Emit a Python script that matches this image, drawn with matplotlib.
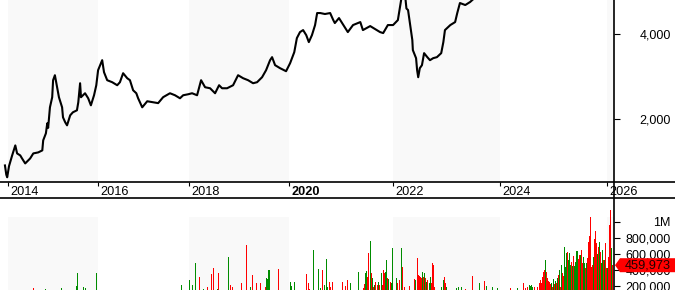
import matplotlib
matplotlib.use("Agg")
import matplotlib.pyplot as plt
import matplotlib.transforms as mtransforms
from matplotlib.lines import Line2D
from matplotlib.patches import Polygon
from matplotlib.ticker import FuncFormatter
import numpy as np
import pandas as pd

plt.rcParams['font.family'] = ['Liberation Sans', 'DejaVu Sans']

# price line (decimal years, price)
price_years = [2013.93, 2013.96, 2013.98, 2014.02, 2014.09, 2014.16, 2014.20, 2014.27, 2014.31, 2014.38,
               2014.49, 2014.56, 2014.67, 2014.76, 2014.78, 2014.84, 2014.87, 2014.89, 2014.93, 2014.98,
               2015.00, 2015.04, 2015.09, 2015.13, 2015.20, 2015.22, 2015.27, 2015.31, 2015.38, 2015.44,
               2015.53, 2015.56, 2015.60, 2015.62, 2015.71, 2015.78, 2015.84, 2015.91, 2015.96, 2016.00,
               2016.09, 2016.13, 2016.20, 2016.31, 2016.42, 2016.48, 2016.55, 2016.64, 2016.70, 2016.77,
               2016.84, 2016.88, 2016.95, 2016.97, 2017.08, 2017.21, 2017.32, 2017.43, 2017.58, 2017.69,
               2017.80, 2017.87, 2017.98, 2018.06, 2018.16, 2018.24, 2018.32, 2018.42, 2018.52, 2018.60,
               2018.66, 2018.76, 2018.88, 2018.98, 2019.08, 2019.18, 2019.28, 2019.36, 2019.46, 2019.54,
               2019.62, 2019.66, 2019.72, 2019.82, 2019.94, 2020.02, 2020.10, 2020.15, 2020.21, 2020.27,
               2020.33, 2020.38, 2020.44, 2020.50, 2020.54, 2020.60, 2020.69, 2020.79, 2020.85, 2020.88,
               2020.96, 2021.13, 2021.23, 2021.37, 2021.42, 2021.56, 2021.75, 2021.81, 2021.90, 2022.00,
               2022.09, 2022.15, 2022.19, 2022.23, 2022.25, 2022.28, 2022.32, 2022.36, 2022.37, 2022.43,
               2022.45, 2022.47, 2022.50, 2022.54, 2022.58, 2022.64, 2022.69, 2022.75, 2022.82, 2022.90,
               2022.94, 2022.97, 2023.07, 2023.16, 2023.20, 2023.25, 2023.35, 2023.44, 2023.50, 2023.70,
               2024.00, 2024.50, 2025.00, 2025.50, 2026.00]
price_values = [918, 700, 640, 900, 1153, 1388, 1200, 1153, 1082, 965,
                1082, 1200, 1224, 1271, 1506, 1671, 1906, 1800, 2282, 2518,
                2918, 3035, 2753, 2518, 2282, 2047, 1929, 1859, 2094, 2165,
                2212, 2400, 2847, 2518, 2612, 2494, 2329, 2565, 2800, 3153,
                3388, 3106, 2918, 2871, 2800, 2871, 3082, 2965, 2918, 2682,
                2612, 2494, 2330, 2282, 2424, 2400, 2380, 2520, 2612, 2565,
                2494, 2565, 2588, 2612, 2565, 2918, 2753, 2729, 2612, 2800,
                2729, 2729, 2800, 3035, 2965, 2918, 2847, 2871, 2988, 3153,
                3388, 3459, 3271, 3200, 3129, 3318, 3576, 3906, 4047, 4094,
                3976, 3812, 3976, 4212, 4494, 4494, 4471, 4494, 4329, 4259,
                4376, 4047, 4212, 4282, 4094, 4188, 4047, 4024, 4212, 4212,
                4329, 4800, 5050, 4850, 4600, 4565, 4212, 3859, 3624, 3435,
                3150, 2988, 3200, 3271, 3553, 3459, 3388, 3435, 3459, 3553,
                3812, 4094, 4212, 4282, 4494, 4729, 4682, 4753, 4820, 5100,
                5400, 5800, 6200, 6600, 7000]

# sparse volume bars before mid 2024 (decimal years, volume, 1 = up week)
sparse_years = [2014.556, 2014.822, 2015.178, 2015.511, 2015.533, 2015.667, 2015.711, 2015.956, 2017.824, 2018.000,
                2018.060, 2018.120, 2018.200, 2018.280, 2018.360, 2018.440, 2018.480, 2018.560, 2018.580, 2018.780,
                2018.820, 2018.860, 2019.040, 2019.140, 2019.220, 2019.260, 2019.340, 2019.420, 2019.520, 2019.540,
                2019.560, 2019.580, 2019.600, 2019.780, 2020.019, 2020.038, 2020.096, 2020.327, 2020.365, 2020.385,
                2020.462, 2020.558, 2020.596, 2020.635, 2020.673, 2020.712, 2020.731, 2020.769, 2020.788, 2020.827,
                2021.019, 2021.077, 2021.115, 2021.173, 2021.327, 2021.423, 2021.442, 2021.462, 2021.481, 2021.500,
                2021.519, 2021.558, 2021.577, 2021.596, 2021.615, 2021.635, 2021.654, 2021.692, 2021.712, 2021.731,
                2021.769, 2021.788, 2021.808, 2021.827, 2021.846, 2021.865, 2021.885, 2021.904, 2021.942, 2021.962,
                2021.981, 2022.056, 2022.075, 2022.112, 2022.150, 2022.168, 2022.206, 2022.299, 2022.393, 2022.411,
                2022.449, 2022.467, 2022.486, 2022.505, 2022.523, 2022.542, 2022.561, 2022.579, 2022.598, 2022.617,
                2022.636, 2022.673, 2022.692, 2022.710, 2022.729, 2022.748, 2022.766, 2022.897, 2022.935, 2022.953,
                2022.972, 2022.991, 2023.178, 2023.215, 2023.271, 2023.346, 2023.477, 2023.607, 2023.701, 2023.738,
                2023.850, 2023.944, 2024.187, 2024.318, 2024.430]
sparse_volumes_k = [171, 160, 179, 200, 367, 192, 171, 367, 212, 275,
                    212, 492, 317, 167, 192, 350, 429, 167, 367, 567,
                    212, 192, 242, 712, 192, 337, 233, 242, 192, 296,
                    287, 400, 400, 412, 254, 200, 254, 350, 242, 162,
                    650, 412, 179, 400, 212, 537, 183, 254, 183, 254,
                    254, 200, 275, 233, 379, 179, 225, 367, 392, 317,
                    617, 762, 358, 304, 183, 212, 254, 212, 254, 212,
                    367, 212, 400, 367, 379, 525, 296, 287, 254, 242,
                    679, 300, 233, 275, 679, 442, 183, 200, 287, 275,
                    546, 337, 325, 317, 296, 379, 308, 367, 296, 254,
                    275, 233, 308, 233, 483, 462, 192, 183, 275, 308,
                    242, 183, 171, 183, 183, 158, 325, 233, 258, 200,
                    183, 171, 171, 171, 233]
sparse_up = [0, 1, 1, 1, 1, 1, 1, 1, 1, 1,
             1, 1, 0, 1, 0, 0, 0, 1, 0, 1,
             0, 0, 0, 0, 1, 0, 0, 0, 0, 1,
             1, 1, 1, 0, 1, 1, 1, 0, 0, 0,
             1, 1, 1, 0, 1, 1, 1, 0, 0, 0,
             0, 0, 0, 1, 1, 0, 0, 1, 1, 0,
             0, 1, 0, 1, 0, 1, 0, 0, 1, 0,
             1, 0, 0, 0, 1, 1, 0, 1, 0, 1,
             1, 1, 0, 0, 1, 0, 0, 0, 0, 1,
             0, 0, 0, 0, 0, 1, 0, 1, 0, 1,
             0, 1, 1, 0, 0, 0, 0, 1, 1, 0,
             0, 1, 1, 1, 1, 0, 0, 1, 0, 1,
             1, 1, 0, 1, 0]

# consecutive weekly bars from mid 2024 to the last week
dense_last_week = '2026-02-10'
dense_volumes_k = [171, 120, 192, 140, 212, 200, 212, 183, 130, 183,
                   130, 183, 140, 242, 275, 242, 308, 379, 400, 525,
                   379, 296, 267, 254, 225, 242, 192, 283, 225, 267,
                   233, 296, 337, 400, 192, 462, 367, 325, 683, 442,
                   608, 629, 525, 608, 462, 504, 450, 575, 450, 504,
                   642, 533, 587, 587, 650, 483, 558, 483, 421, 492,
                   546, 754, 825, 1058, 442, 462, 567, 783, 892, 733,
                   600, 692, 754, 629, 483, 650, 525, 525, 733, 421,
                   421, 558, 962, 1150, 671, 459.973]
dense_up = [0, 1, 0, 1, 1, 1, 1, 1, 0, 0,
            1, 0, 0, 0, 0, 0, 0, 0, 0, 1,
            0, 0, 0, 0, 0, 1, 0, 1, 0, 1,
            0, 1, 0, 1, 0, 1, 0, 0, 1, 1,
            1, 0, 1, 1, 1, 0, 1, 0, 1, 1,
            1, 0, 0, 1, 0, 0, 1, 1, 0, 1,
            0, 0, 0, 0, 0, 0, 1, 0, 0, 0,
            1, 0, 1, 0, 1, 1, 0, 1, 0, 0,
            1, 0, 0, 0, 1, 0]
last_volume = 459973

year_ticks = [2014, 2016, 2018, 2020, 2022, 2024, 2026]
shaded_spans = [(2014, 2016), (2018, 2020), (2022, 2024), (2026, 2028)]

# the time axis is not linear in years: anchor years and their pixel positions
axis_years = [2013, 2014, 2016, 2018, 2020, 2022, 2024, 2026, 2027]
axis_pos = [-37, 8, 98, 189, 289, 393, 500, 607, 660.5]


def to_pos(y):
    return np.interp(y, axis_years, axis_pos)


def to_year(p):
    return np.interp(p, axis_pos, axis_years)


dense_dates = pd.date_range(end=dense_last_week, periods=len(dense_volumes_k), freq='7D')
dense_years = dense_dates.year + (dense_dates.dayofyear - 1) / np.where(dense_dates.is_leap_year, 366, 365)

bar_years = np.concatenate([sparse_years, dense_years])
bar_vols = np.concatenate([sparse_volumes_k, dense_volumes_k]) * 1000
bar_up = np.concatenate([sparse_up, dense_up])
bar_colors = np.where(bar_up == 1, '#008c00', '#ff0000')

W, H = 675, 290
fig = plt.figure(figsize=(W / 100, H / 100), dpi=100)
right = 614 / W
ax1 = fig.add_axes([0, 1 - 181.5 / H, right, 181.5 / H])
ax2 = fig.add_axes([0, 0, right, 92 / H])

band = '#f9f9f9'
for ax in (ax1, ax2):
    ax.set_xscale('function', functions=(to_pos, to_year))
    ax.set_xlim(2013.82, 2026.13)
    for s in ax.spines.values():
        s.set_visible(False)
    ax.yaxis.tick_right()
    ax.tick_params(axis='y', direction='out', length=4.3, width=0.8, pad=36.5,
                   labelsize=9, colors='black')

for a, b in shaded_spans:
    ax1.axvspan(a, b, color=band, lw=0, zorder=0)
    ax2.axvspan(a, b, ymax=0.795, color=band, lw=0, zorder=0)

# price panel
ax1.plot(price_years, price_values, color='black', lw=1.5, zorder=3)
ax1.set_ylim(541, 4800)
ax1.set_yticks([2000, 4000])
ax1.yaxis.set_major_formatter(FuncFormatter(lambda v, p: f'{v:,.0f}'))
for lbl in ax1.get_yticklabels():
    lbl.set_ha('right')

ax1.set_xticks(year_ticks)
ax1.set_xticklabels([str(y) for y in year_ticks])
ax1.tick_params(axis='x', direction='out', length=3, width=0.8, pad=0.5, labelsize=9.2)
shift = mtransforms.ScaledTranslation(2 / 100, 0, fig.dpi_scale_trans)
for lbl in ax1.get_xticklabels():
    lbl.set_ha('left')
    lbl.set_transform(lbl.get_transform() + shift)
    if lbl.get_text() == '2020':
        lbl.set_fontweight('bold')

# volume panel
ax2.bar(bar_years, bar_vols, width=0.019, color=bar_colors, lw=0, antialiased=False, zorder=3)
ax2.set_ylim(150000, 1300000)
ax2.set_xticks([])
ax2.set_yticks([200000, 400000, 600000, 800000, 1000000])
ax2.yaxis.set_major_formatter(FuncFormatter(lambda v, p: '1M' if v >= 1e6 else f'{v:,.0f}'))
for lbl in ax2.get_yticklabels():
    lbl.set_ha('right')

# last value marker on the right axis
anchor = mtransforms.Affine2D() + mtransforms.ScaledTranslation(1.0, last_volume, ax2.get_yaxis_transform())
marker = Polygon([(1, 0), (6, 7), (70, 7), (70, -7), (6, -7)], closed=True,
                 transform=anchor, facecolor='#ff0000', edgecolor='none', clip_on=False, zorder=10)
ax2.add_patch(marker)
ax2.text(1.0, last_volume, f'{last_volume:,}', fontsize=9.2, color='#200000', ha='right', va='center',
         transform=ax2.get_yaxis_transform() + mtransforms.ScaledTranslation(57 / 100, 0, fig.dpi_scale_trans),
         clip_on=False, zorder=11)

# frame lines running across the whole picture
y_top = 1 - 181.5 / H
y_bot = 92 / H
fig.add_artist(Line2D([0, 1], [y_top, y_top], color='black', lw=1.2))
fig.add_artist(Line2D([0, 1], [y_bot, y_bot], color='black', lw=1.2))
fig.add_artist(Line2D([right, right], [0, 1], color='black', lw=1.2))

fig.savefig('out.png', dpi=100)
